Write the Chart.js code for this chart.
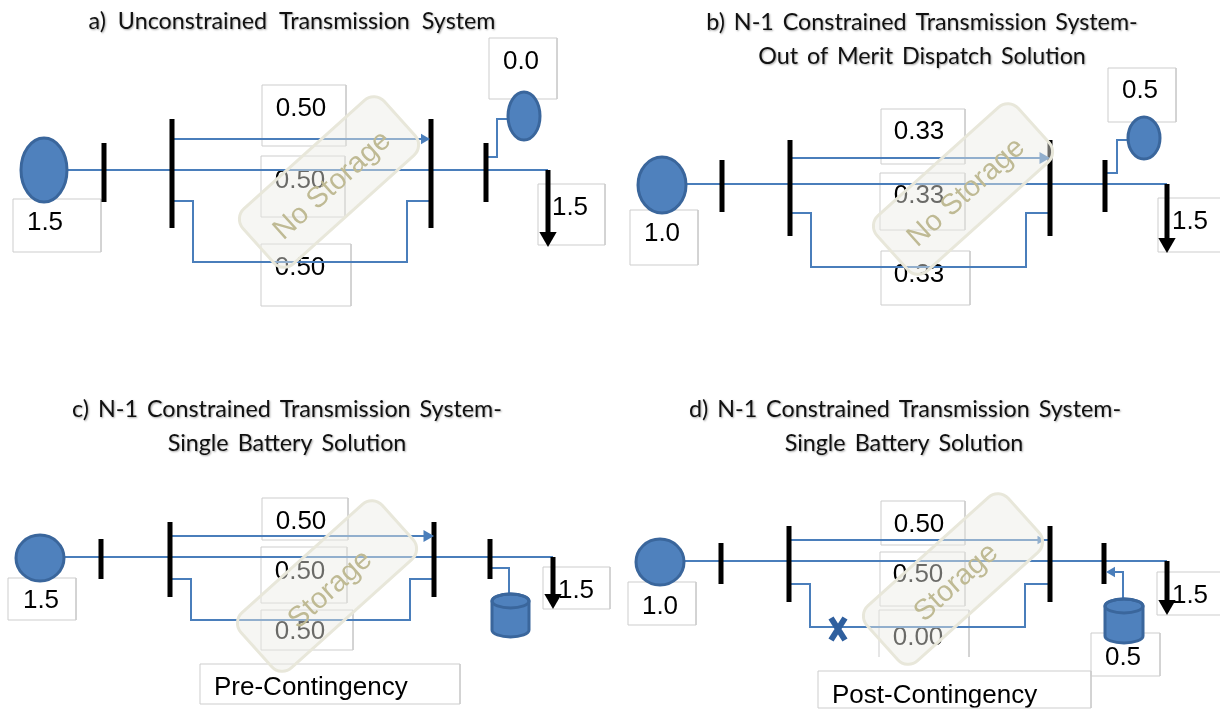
<!DOCTYPE html>
<html>
<head>
<meta charset="utf-8">
<style>
html, body { margin: 0; padding: 0; background: #fff; }
#wrap { width: 1220px; height: 709px; overflow: hidden; }
#diagram { display: block; filter: blur(0.4px); }
</style>
<script src="https://cdn.jsdelivr.net/npm/chart.js@4/dist/chart.umd.min.js"></script>
</head>
<body>
<div id="wrap"><canvas id="diagram" width="1220" height="709"></canvas></div>
<script>
// titles: text, centre x, centre y
const titles = [
    ["a) Unconstrained Transmission System", 292, 21],
    ["b) N-1 Constrained Transmission System-", 922, 22],
    ["Out of Merit Dispatch Solution", 922, 56],
    ["c) N-1 Constrained Transmission System-", 287, 409],
    ["Single Battery Solution", 287, 443],
    ["d) N-1 Constrained Transmission System-", 905, 409],
    ["Single Battery Solution", 904, 443]
]

// value labels: text, centre x, centre y
const valueLabels = [
    ["1.5", 45, 223], ["0.0", 521, 62], ["0.50", 301, 109], ["0.50", 300, 181], ["0.50", 300, 268], ["1.5", 570, 208],
    ["1.0", 662, 234], ["0.5", 1140, 91], ["0.33", 919, 132], ["0.33", 919, 196], ["0.33", 919, 275], ["1.5", 1190, 222],
    ["1.5", 41, 601], ["0.50", 301, 522], ["0.50", 300, 572], ["0.50", 300, 632], ["1.5", 576, 591],
    ["1.0", 660, 607], ["0.50", 919, 525], ["0.50", 918, 575], ["0.00", 918, 638], ["0.5", 1123, 658], ["1.5", 1190, 596]
]
const noteLabels = [["Pre-Contingency", 214, 688], ["Post-Contingency", 832, 696]]

// label boxes: x0, y0, x1, y1
const labelBoxes = [
    [13, 199, 101, 252], [489, 38, 557, 99], [262, 85, 346, 146], [261, 156, 345, 217], [261, 244, 351, 306], [538, 184, 605, 245],
    [630, 210, 698, 265], [1108, 68, 1176, 122], [881, 109, 965, 164], [880, 173, 965, 230], [881, 251, 970, 305], [1158, 198, 1225, 252],
    [8, 578, 76, 620], [262, 498, 348, 540], [261, 547, 347, 603], [261, 610, 353, 650], [543, 567, 610, 609], [200, 664, 460, 704],
    [628, 582, 696, 625], [881, 501, 965, 545], [880, 552, 965, 606], [1091, 633, 1160, 676], [1157, 572, 1225, 615], [818, 671, 1091, 708]
]
const openBox = [[879, 657], [879, 610], [969, 610], [969, 657]]

// bus bars: x, top, bottom
const busBars = [
    [104, 143, 202], [172, 119, 228], [431, 119, 228], [486, 143, 202],
    [722, 160, 212], [790, 140, 236], [1050, 140, 236], [1105, 160, 212],
    [101, 539, 579], [170, 522, 597], [434, 522, 597], [490, 539, 579],
    [721, 543, 584], [789, 526, 602], [1050, 526, 602], [1104, 543, 584]
]

// load arrows: x, top, bottom of shaft, head centre y
const loadArrows = [[548, 170, 233, 237], [1167, 184, 239, 243], [553, 557, 595, 599], [1167, 561, 601, 605]]

// blue flow lines
const topLines = [[172, 431, 139], [790, 1050, 158], [170, 434, 536], [789, 1050, 540]]
const midLines = [[68, 548, 170], [686, 1167, 184], [65, 553, 557], [684, 1167, 561]]
const loopLines = [
    [[172, 201], [193, 201], [193, 262], [407, 262], [407, 201], [431, 201]],
    [[790, 213], [811, 213], [811, 267], [1026, 267], [1026, 213], [1050, 213]],
    [[170, 579], [191, 579], [191, 620], [410, 620], [410, 579], [434, 579]],
    [[789, 584], [810, 584], [810, 627], [1025, 627], [1025, 584], [1050, 584]]
]
const connectors = [
    [[486, 157], [497, 157], [497, 119], [509, 119]],
    [[1105, 173], [1117, 173], [1117, 140], [1128, 140]],
    [[490, 568], [509, 568], [509, 594]],
    [[1123, 599], [1123, 572], [1108, 572]]
]

// flow arrow heads: x, y, rotation, radius
const flowHeads = [[424, 139, 90, 6], [1043, 158, 90, 7], [427, 536, 90, 7], [1040, 540, 90, 5], [1112, 572, 270, 6]]

// generators: x, y, rx, ry
const generators = [[44, 170, 23, 32], [524, 116, 16, 24], [662, 185, 24, 28], [1144, 138, 16, 21], [40, 558, 24, 23], [660, 562, 24, 23]]
// batteries: x0, x1, top, bottom
const batteries = [[492, 529, 594, 637], [1105, 1143, 599, 643]]
// outage cross: centre x, centre y, half width, half height
const outage = [838, 629, 7, 11]
// storage stamps: text, centre x, centre y
const stamps = [["No Storage", 329, 182], ["No Storage", 963, 189], ["Storage", 327, 586], ["Storage", 953, 579]]

const lineBlue = "#4a7ebb"
const fillBlue = "#4f81bd"
const edgeBlue = "#3a669c"

function lineSet(points, color, width) {
    return {
        type: "scatter",
        data: points.map(p => ({ x: p[0], y: p[1] })),
        showLine: true,
        borderColor: color,
        borderWidth: width,
        borderCapStyle: "butt",
        borderJoinStyle: "miter",
        pointRadius: 0,
        tension: 0
    }
}

let datasets = []
for (const b of labelBoxes) {
    datasets.push(lineSet([[b[0], b[1]], [b[2], b[1]], [b[2], b[3]], [b[0], b[3]], [b[0], b[1]]], "#cdcdcd", 1))
}
datasets.push(lineSet(openBox, "#cdcdcd", 1))
for (const l of topLines) datasets.push(lineSet([[l[0], l[2]], [l[1], l[2]]], lineBlue, 2))
for (const l of midLines) datasets.push(lineSet([[l[0], l[2]], [l[1], l[2]]], lineBlue, 2))
for (const l of loopLines) datasets.push(lineSet(l, lineBlue, 2))
for (const l of connectors) datasets.push(lineSet(l, lineBlue, 2))
for (const b of busBars) datasets.push(lineSet([[b[0], b[1]], [b[0], b[2]]], "#000000", 5))
for (const a of loadArrows) datasets.push(lineSet([[a[0], a[1]], [a[0], a[2]]], "#000000", 5))

// arrow heads go through the scales as triangle points
datasets.push({
    type: "scatter",
    data: flowHeads.map(h => ({ x: h[0], y: h[1] })),
    pointStyle: "triangle",
    pointRotation: flowHeads.map(h => h[2]),
    pointRadius: flowHeads.map(h => h[3]),
    pointBackgroundColor: lineBlue,
    pointBorderWidth: 0
})
datasets.push({
    type: "scatter",
    data: loadArrows.map(a => ({ x: a[0], y: a[3] })),
    pointStyle: "triangle",
    pointRotation: 180,
    pointRadius: 10,
    pointBackgroundColor: "#000000",
    pointBorderWidth: 0
})

// lines and arrows were pushed bottom first, chart.js paints the first dataset on top
datasets.forEach((d, i) => { d.order = datasets.length - i })

const diagramPlugin = {
    id: "diagramParts",
    beforeDatasetsDraw(chart) {
        const c = chart.ctx
        const sx = v => chart.scales.x.getPixelForValue(v)
        const sy = v => chart.scales.y.getPixelForValue(v)
        c.save()
        c.fillStyle = "#000"
        c.font = "26px 'Liberation Sans'"
        c.textAlign = "center"
        c.textBaseline = "middle"
        for (const t of valueLabels) c.fillText(t[0], sx(t[1]), sy(t[2]))
        c.textAlign = "left"
        for (const t of noteLabels) c.fillText(t[0], sx(t[1]), sy(t[2]))
        c.restore()
    },
    afterDatasetsDraw(chart) {
        const c = chart.ctx
        const sx = v => chart.scales.x.getPixelForValue(v)
        const sy = v => chart.scales.y.getPixelForValue(v)
        c.save()
        c.fillStyle = fillBlue
        c.strokeStyle = edgeBlue
        c.lineWidth = 3
        for (const g of generators) {
            c.beginPath()
            c.ellipse(sx(g[0]), sy(g[1]), g[2], g[3], 0, 0, Math.PI * 2)
            c.fill()
            c.stroke()
        }
        for (const b of batteries) {
            const x0 = sx(b[0]), x1 = sx(b[1]), top = sy(b[2]), bottom = sy(b[3])
            const mid = (x0 + x1) / 2, rx = (x1 - x0) / 2, ry = 7
            c.beginPath()
            c.moveTo(x0, top + ry)
            c.lineTo(x0, bottom - ry)
            c.ellipse(mid, bottom - ry, rx, ry, 0, Math.PI, 0, true)
            c.lineTo(x1, top + ry)
            c.ellipse(mid, top + ry, rx, ry, 0, 0, Math.PI, true)
            c.closePath()
            c.fill()
            c.stroke()
            c.beginPath()
            c.ellipse(mid, top + ry, rx, ry, 0, 0, Math.PI * 2)
            c.stroke()
        }
        // outage cross
        c.strokeStyle = "#2f5f9e"
        c.lineWidth = 6
        c.beginPath()
        c.moveTo(sx(outage[0] - outage[2]), sy(outage[1] - outage[3]))
        c.lineTo(sx(outage[0] + outage[2]), sy(outage[1] + outage[3]))
        c.moveTo(sx(outage[0] + outage[2]), sy(outage[1] - outage[3]))
        c.lineTo(sx(outage[0] - outage[2]), sy(outage[1] + outage[3]))
        c.stroke()

        // semi transparent rotated stamps
        for (const s of stamps) {
            c.save()
            c.translate(sx(s[1]), sy(s[2]))
            c.rotate(-42 * Math.PI / 180)
            c.beginPath()
            c.roundRect(-95, -37, 190, 74, 14)
            c.fillStyle = "rgba(236,236,228,0.45)"
            c.fill()
            c.strokeStyle = "#e8e7da"
            c.lineWidth = 3
            c.stroke()
            c.fillStyle = "#bfba94"
            c.font = "29px 'Liberation Sans'"
            c.textAlign = "center"
            c.textBaseline = "middle"
            c.fillText(s[0], 0, 5)
            c.restore()
        }

        // titles
        c.fillStyle = "#111"
        c.font = "23.3px Lato"
        c.textAlign = "center"
        c.textBaseline = "middle"
        c.shadowColor = "rgba(0,0,0,0.35)"
        c.shadowBlur = 2
        c.shadowOffsetX = 1
        c.shadowOffsetY = 1
        for (const t of titles) {
            // the first title is set wider in the picture
            c.wordSpacing = t[0].startsWith("a)") ? "6px" : "3px"
            c.fillText(t[0], sx(t[1]), sy(t[2]))
        }
        c.restore()
    }
}

new Chart(document.querySelector("#diagram"), {
    type: "scatter",
    data: { datasets: datasets },
    options: {
        responsive: false,
        animation: false,
        layout: { padding: 0, autoPadding: false },
        plugins: { legend: { display: false }, tooltip: { enabled: false } },
        scales: {
            x: { type: "linear", min: 0, max: 1220, display: false },
            y: { type: "linear", min: 0, max: 709, reverse: true, display: false }
        }
    },
    plugins: [diagramPlugin]
})
</script>
</body>
</html>
